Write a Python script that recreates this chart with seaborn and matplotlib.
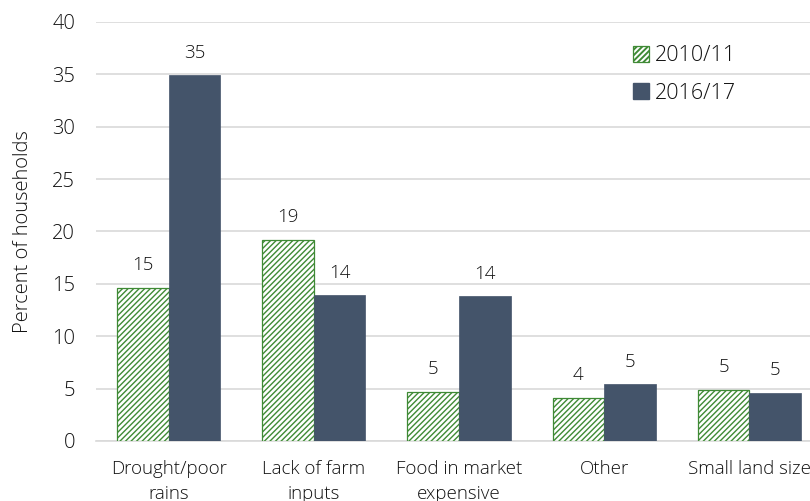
import matplotlib
matplotlib.use("Agg")
import matplotlib.pyplot as plt
from matplotlib.patches import Patch
import seaborn as sns
import pandas as pd

# Reasons for food shortage, share of households by survey round
categories = ["Drought/poor\nrains", "Lack of farm\ninputs", "Food in market\nexpensive",
              "Other", "Small land size"]
rounds = ["2010/11", "2016/17"]
values_2010 = [14.6, 19.2, 4.7, 4.1, 4.9]
values_2016 = [34.9, 13.9, 13.8, 5.4, 4.6]
y_ticks = [0, 5, 10, 15, 20, 25, 30, 35, 40]

df = pd.DataFrame({
    "reason": categories * 2,
    "round": [rounds[0]] * len(categories) + [rounds[1]] * len(categories),
    "pct": values_2010 + values_2016,
})

sns.set_theme(style="white")
plt.rcParams["font.family"] = ["Open Sans", "DejaVu Sans"]
plt.rcParams["font.weight"] = "light"

dark = "#44546a"
green = "#3f8a35"
text_col = "#111111"

fig = plt.figure(figsize=(8.1, 5.01), dpi=100)
ax = fig.add_axes([96 / 810, 60 / 501, 726 / 810, 419 / 501])

sns.barplot(data=df, x="reason", y="pct", hue="round", hue_order=rounds,
            order=categories, palette=["white", dark], width=0.71,
            saturation=1, legend=False, ax=ax, zorder=3)

plt.rcParams["hatch.linewidth"] = 1.4
c_old, c_new = ax.containers[0], ax.containers[1]
for bar in c_old:
    bar.set_facecolor("white")
    bar.set_edgecolor(green)
    bar.set_hatch("//////")
    bar.set_linewidth(0.9)
for bar in c_new:
    bar.set_facecolor(dark)
    bar.set_edgecolor(dark)
    bar.set_linewidth(0.5)

for cont in ax.containers:
    ax.bar_label(cont, fmt="{:.0f}", padding=10, fontsize=13.5, color=text_col,
                 fontweight="light")

ax.set_ylim(0, 40)
ax.set_yticks(y_ticks)
ax.set_xlim(-0.5, len(categories) - 0.5)
ax.grid(axis="y", color="#d9d9d9", linewidth=1.2, zorder=0)
ax.set_axisbelow(True)
for side in ["top", "right", "left"]:
    ax.spines[side].set_visible(False)
ax.spines["bottom"].set_color("#d9d9d9")
ax.spines["bottom"].set_linewidth(1.2)

ax.tick_params(axis="y", length=4, color="#d9d9d9", width=1.2, pad=11,
               labelsize=14.5, labelcolor=text_col)
ax.tick_params(axis="x", length=0, pad=14, labelsize=13.5, labelcolor=text_col)
for lab in ax.get_yticklabels():
    lab.set_fontweight("light")
for lab in ax.get_xticklabels():
    lab.set_fontweight("light")
    lab.set_linespacing(1.45)

ax.set_xlabel("")
ax.set_ylabel("Percent of households", fontsize=14.5, color=text_col,
              fontweight="light", labelpad=14)

handles = [
    Patch(facecolor="white", edgecolor=green, hatch="//////", linewidth=0.9, label=rounds[0]),
    Patch(facecolor=dark, edgecolor=dark, label=rounds[1]),
]
leg = ax.legend(handles=handles, loc="upper right", bbox_to_anchor=(0.9, 0.975),
                frameon=False, fontsize=15.5, handlelength=0.75, handleheight=0.75,
                handletextpad=0.3, labelspacing=0.75, borderaxespad=0.2)
for t in leg.get_texts():
    t.set_color(text_col)
    t.set_fontweight("light")

fig.savefig("out.png", dpi=100)
